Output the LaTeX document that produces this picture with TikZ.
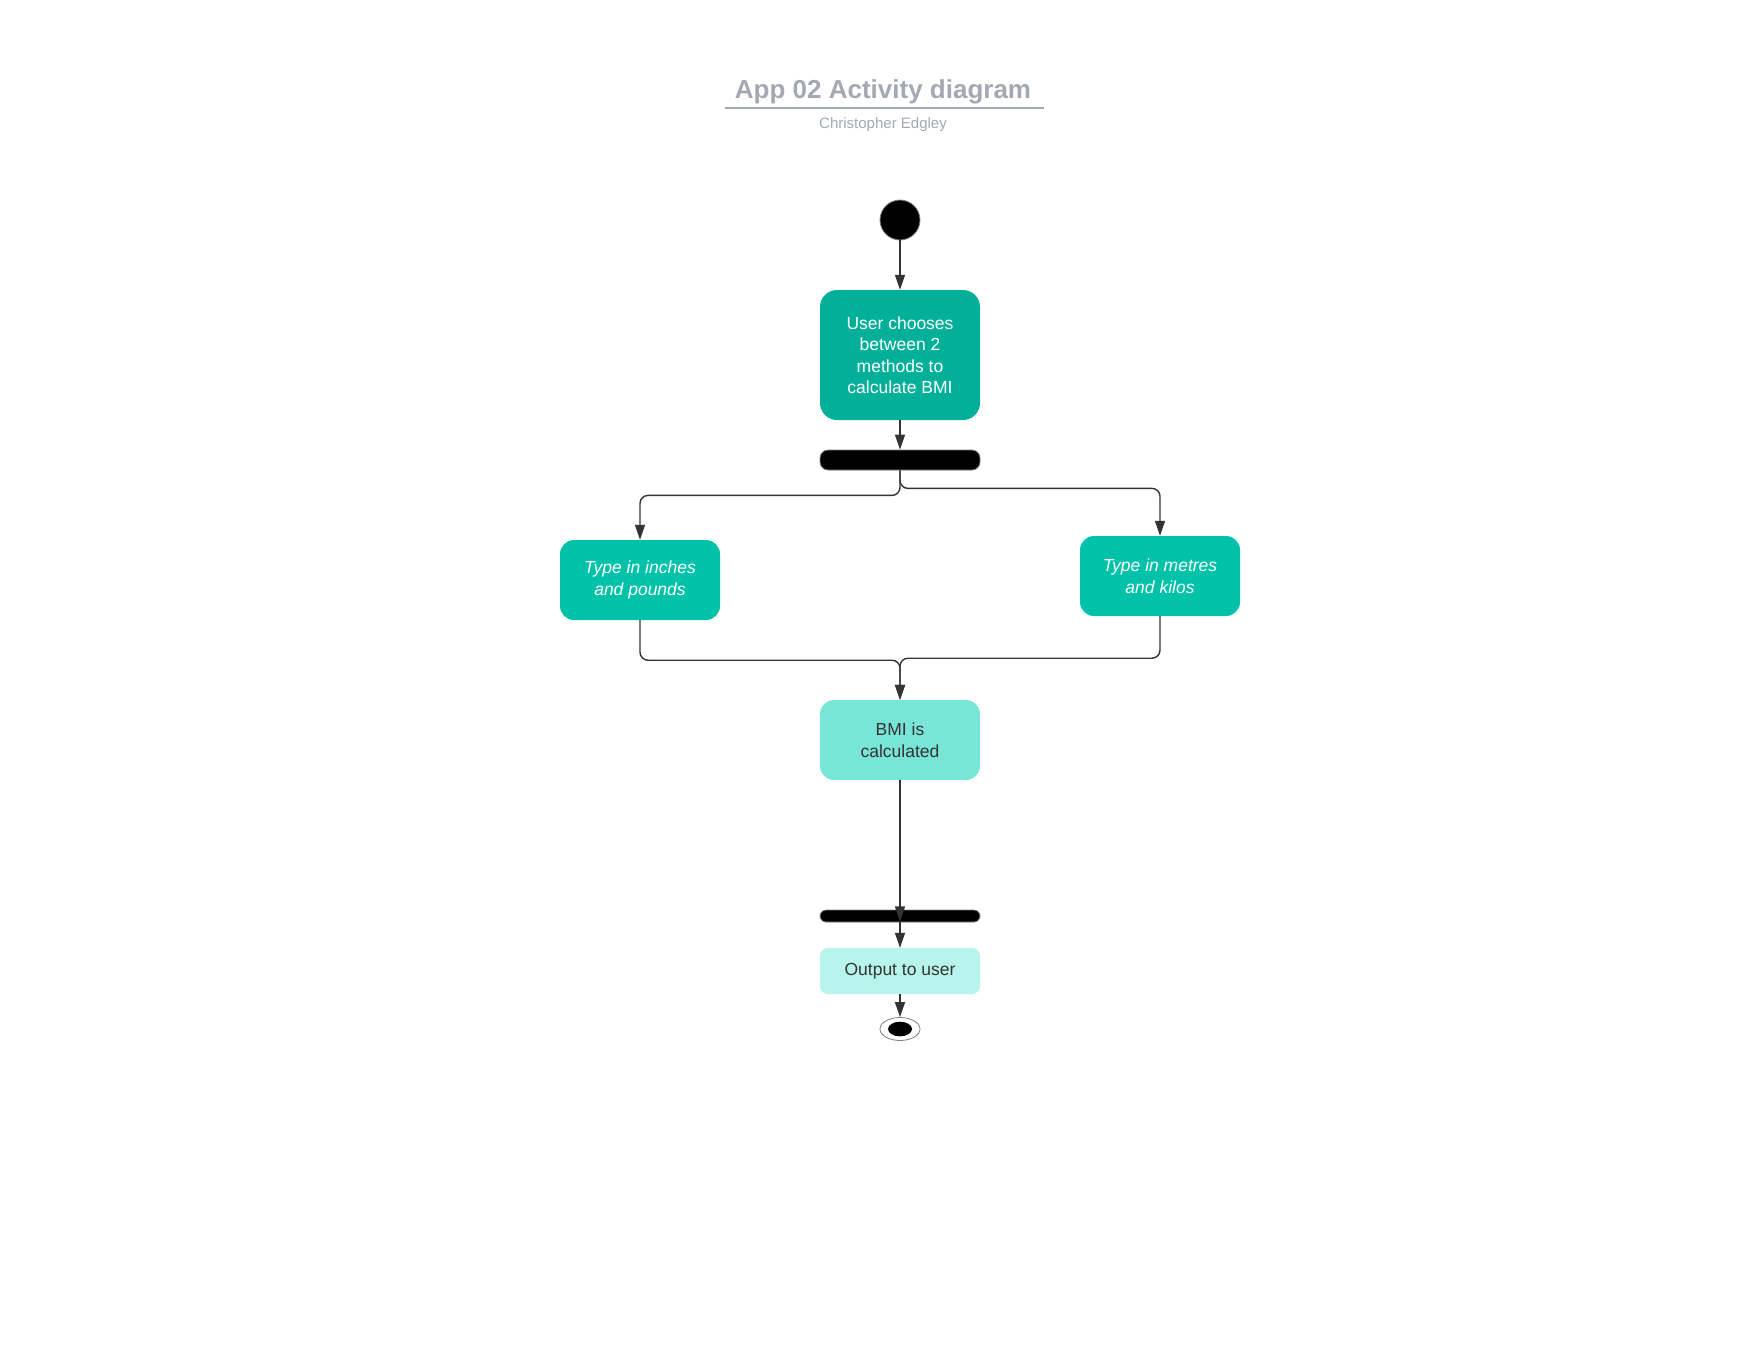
\documentclass[tikz,border=0pt]{standalone}
\usepackage{fontspec}
\setmainfont{Liberation Sans}
\usetikzlibrary{arrows.meta}
\usetikzlibrary{shapes.geometric}
\definecolor{titlegray}{HTML}{A3A9B3}
\definecolor{choosegreen}{HTML}{02B09A}
\definecolor{typegreen}{HTML}{00C2A8}
\definecolor{bmicyan}{HTML}{79E5D8}
\definecolor{outcyan}{HTML}{B7F4EB}
\definecolor{linegray}{HTML}{333333}

\begin{document}
\begin{tikzpicture}[x=1pt, y=-1pt,
  flow/.style={draw=linegray, line width=1.4pt, -{Triangle[length=15pt, width=10pt]}},
  act/.style={inner sep=0pt, minimum width=160pt, align=center, font=\fontsize{17.5}{21.5}\selectfont},
  typein/.style={act, fill=typegreen, text=white, minimum height=80pt, rounded corners=14pt, font=\itshape\fontsize{17.5}{21.5}\selectfont},
  bar/.style={fill=black, draw=gray, line width=0.8pt, minimum width=160pt, inner sep=0pt}]
  \fill[white] (0,0) rectangle (1760,1360);
  % title block
  \node[anchor=base, text=titlegray, font=\bfseries\fontsize{26}{30}\selectfont] (title) at (883,98) {App 02 Activity diagram};
  \draw[titlegray, line width=2pt] (725,108) -- (1044,108);
  \node[anchor=base, text=titlegray, font=\fontsize{15}{18}\selectfont] (author) at (883,128) {Christopher Edgley};
  % activities
  \node[circle, fill=black, draw=gray, line width=0.8pt, minimum size=40pt, inner sep=0pt] (start) at (900,220) {};
  \node[act, fill=choosegreen, text=white, minimum height=130pt, rounded corners=17pt] (choose) at (900,355) {User chooses\\between 2\\methods to\\calculate BMI};
  \node[bar, minimum height=20pt, rounded corners=8pt] (fork) at (900,460) {};
  \node[typein] (inch) at (640,580) {Type in inches\\and pounds};
  \node[typein] (metre) at (1160,576) {Type in metres\\and kilos};
  \node[act, fill=bmicyan, text=linegray, minimum height=80pt, rounded corners=14pt] (bmi) at (900,740) {BMI is\\calculated};
  \node[bar, minimum height=12pt, rounded corners=6pt] (join) at (900,916) {};
  \node[act, fill=outcyan, text=linegray, minimum height=46pt, rounded corners=8pt] (output) at (900,971) {Output to user};
  \node[ellipse, draw=gray, fill=white, line width=0.8pt, minimum width=40pt, minimum height=23pt, inner sep=0pt] (finish) at (900,1029) {};
  \fill (finish.center) ellipse [x radius=12, y radius=7.3];
  % connectors
  \draw[flow] (start) -- (choose);
  \draw[flow] (choose) -- (fork);
  \draw[flow, rounded corners=8pt] (fork.south) -- ++(0,25) -| (inch.north);
  \draw[flow, rounded corners=8pt] (fork.south) -- ++(0,18) -| (metre.north);
  \draw[flow, rounded corners=8pt] (inch.south) -- ++(0,40) -| (bmi.north);
  \draw[flow, rounded corners=8pt] (metre.south) -- ++(0,42) -| (bmi.north);
  \draw[flow] (bmi.south) -- ([yshift=1pt]join.south);
  \draw[flow] (join) -- (output);
  \draw[flow] (output) -- (finish);
\end{tikzpicture}
\end{document}
